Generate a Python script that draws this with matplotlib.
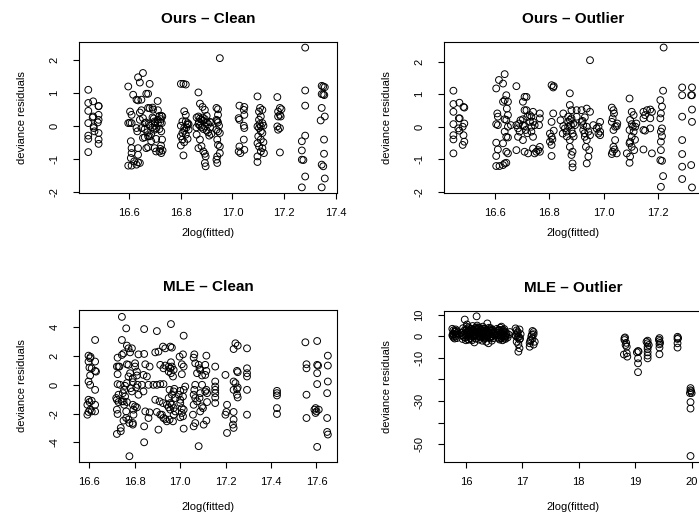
import matplotlib
matplotlib.use("Agg")
import matplotlib.pyplot as plt

plt.rcParams['font.family'] = ['Liberation Sans', 'DejaVu Sans']
plt.rcParams['axes.unicode_minus'] = False

# ---- Ours - Clean ----
ours_clean_x = [16.441, 16.441, 16.441, 16.441, 16.441, 16.441, 16.441, 16.460, 16.460, 16.462, 16.462, 16.465, 16.458,
                16.481, 16.481, 16.481, 16.481, 16.481, 16.481, 16.481, 16.478,
                16.596, 16.653, 16.634, 16.641, 16.679, 16.673, 16.666, 16.615, 16.634, 16.628, 16.647,
                16.603, 16.609, 16.641, 16.647, 16.673, 16.679, 16.692, 16.711, 16.717,
                16.596, 16.602, 16.609, 16.641, 16.653, 16.660, 16.647, 16.628, 16.631, 16.660, 16.679, 16.698, 16.711,
                16.711, 16.717, 16.698, 16.673, 16.653, 16.679, 16.704, 16.685,
                16.606, 16.609, 16.634, 16.666, 16.673, 16.698, 16.704, 16.717, 16.724, 16.609, 16.634, 16.606, 16.619,
                16.634, 16.628, 16.596, 16.609, 16.641,
                16.690, 16.695, 16.700, 16.705, 16.720, 16.725, 16.728, 16.722, 16.726, 16.724, 16.727, 16.723, 16.720,
                16.729, 16.710, 16.690, 16.685, 16.660, 16.670, 16.665, 16.675, 16.690, 16.700,
                16.800, 16.810, 16.819, 16.813, 16.819, 16.806, 16.819, 16.826, 16.813, 16.800, 16.813, 16.806, 16.819,
                16.800, 16.806, 16.813, 16.800, 16.810, 16.826, 16.822, 16.826, 16.830, 16.830,
                16.868, 16.874, 16.884, 16.893, 16.861, 16.868, 16.874, 16.880, 16.887, 16.893, 16.900, 16.906, 16.912,
                16.918, 16.868, 16.874, 16.880, 16.887, 16.893, 16.900, 16.906, 16.913, 16.918, 16.861, 16.874, 16.868,
                16.880, 16.887, 16.893, 16.896, 16.893, 16.896, 16.870, 16.885, 16.900, 16.910, 16.860,
                16.938, 16.944, 16.944, 16.938, 16.944, 16.938, 16.944, 16.951, 16.941, 16.944, 16.951, 16.951, 16.941,
                16.938, 16.941, 16.951, 16.948, 16.941,
                17.027, 17.046, 17.044, 17.024, 17.027, 17.046, 17.044, 17.046, 17.044, 17.027, 17.024, 17.031, 17.046,
                17.097, 17.107, 17.116, 17.103, 17.110, 17.103, 17.116, 17.110, 17.103, 17.110, 17.116, 17.097, 17.100,
                17.110, 17.097, 17.103, 17.116, 17.110, 17.122, 17.097, 17.097, 17.120, 17.120, 17.105,
                17.174, 17.184, 17.190, 17.177, 17.184, 17.177, 17.187, 17.174, 17.184, 17.177, 17.184,
                17.282, 17.282, 17.282, 17.282, 17.269, 17.269, 17.269, 17.275, 17.282, 17.269,
                17.346, 17.352, 17.358, 17.346, 17.352, 17.356, 17.346, 17.342, 17.358, 17.355, 17.355, 17.346, 17.352,
                17.358, 17.346]
ours_clean_y = [1.09, 0.69, 0.45, 0.08, -0.30, -0.40, -0.80, 0.74, 0.28, -0.02, -0.07, -0.17, 0.25,
                0.60, 0.59, 0.33, 0.18, -0.22, -0.42, -0.55, 0.10,
                1.19, 1.60, 1.47, 1.31, 1.27, 0.97, 0.97, 0.94, 0.77, 0.79, 0.79,
                0.43, 0.33, 0.40, 0.47, 0.54, 0.53, 0.49, 0.47, 0.30,
                0.08, 0.09, 0.08, 0.18, 0.23, 0.08, -0.07, -0.07, -0.17, -0.10, 0.00, 0.13, 0.18,
                0.08, -0.10, -0.12, -0.32, -0.37, -0.32, -0.40, -0.47,
                -0.47, -0.68, -0.68, -0.68, -0.65, -0.68, -0.78, -0.78, -0.83, -0.83, -0.88, -0.98, -1.08,
                -1.11, -1.18, -1.21, -1.21, -1.13,
                0.25, 0.22, 0.00, -0.08, 0.10, 0.30, 0.28, 0.20, 0.08, -0.17, -0.42, -0.60, -0.70,
                -0.75, 0.75, 0.55, -0.25, -0.35, -0.20, 0.10, 0.05, -0.05, 0.10,
                1.27, 1.27, 1.25, 0.44, 0.33, 0.13, 0.13, 0.03, -0.07, 0.00, -0.15, -0.22, -0.27,
                -0.32, -0.42, -0.50, -0.60, -0.90, 0.08, -0.05, -0.40, 0.05, -0.12,
                1.01, 0.67, 0.57, 0.48, 0.25, 0.28, 0.22, 0.18, 0.15, 0.20, 0.10, 0.05, 0.12,
                0.10, 0.05, 0.00, -0.05, -0.10, -0.02, -0.15, -0.20, -0.05, -0.25, -0.27, -0.42, -0.68,
                -0.62, -0.78, -0.85, -0.93, -1.13, -1.23, 0.12, 0.25, 0.30, -0.30, -0.05,
                0.54, 0.50, 0.33, 0.18, 0.10, -0.12, -0.17, -0.22, -0.42, -0.58, -0.63, -0.83, -0.93,
                -1.03, -1.13, 2.05, 0.00, 0.15,
                0.61, 0.57, 0.48, 0.23, 0.18, 0.33, 0.00, -0.07, -0.42, -0.63, -0.78, -0.83, -0.73,
                0.89, 0.54, 0.48, 0.43, 0.28, 0.18, 0.08, -0.02, -0.07, -0.17, -0.22, -0.02, -0.32,
                -0.42, -0.53, -0.63, -0.68, -0.78, -0.83, -0.93, -1.10, 0.00, -0.50, 0.05,
                0.87, 0.54, 0.50, 0.43, 0.33, 0.28, 0.28, -0.02, -0.07, -0.12, -0.81,
                2.37, 1.07, 0.61, -0.30, -0.47, -0.75, -1.03, -1.04, -1.54, -1.87,
                1.21, 1.19, 1.17, 0.96, 0.95, 0.93, 0.54, 0.16, 0.28, -0.42, -0.85, -1.18, -1.23,
                -1.60, -1.87]

# ---- Ours - Outlier ----
ours_out_x = [16.449, 16.449, 16.471, 16.449, 16.449, 16.449, 16.449, 16.449, 16.469, 16.472, 16.467, 16.471,
              16.489, 16.486, 16.489, 16.483, 16.486, 16.489, 16.483,
              16.606, 16.616, 16.637, 16.631, 16.610, 16.612, 16.606, 16.612, 16.606, 16.612, 16.606, 16.606,
              16.618, 16.631, 16.637, 16.643, 16.631, 16.637, 16.649, 16.643, 16.645, 16.649, 16.637, 16.643,
              16.649, 16.637, 16.643, 16.649, 16.631, 16.643, 16.649, 16.680, 16.680, 16.686, 16.692, 16.686,
              16.680, 16.704, 16.710, 16.717, 16.710, 16.717, 16.704, 16.704, 16.710, 16.714, 16.704, 16.710,
              16.723, 16.729, 16.735, 16.741, 16.741, 16.747, 16.735, 16.735, 16.741, 16.741, 16.747, 16.753,
              16.760, 16.766, 16.766, 16.763, 16.766, 16.766, 16.690, 16.695, 16.720, 16.720, 16.730, 16.660,
              16.809, 16.817, 16.815, 16.815, 16.809, 16.803, 16.809, 16.812, 16.803, 16.809, 16.809, 16.817,
              16.852, 16.842, 16.852, 16.858, 16.864, 16.850, 16.876, 16.876, 16.882, 16.870, 16.876, 16.882,
              16.889, 16.870, 16.882, 16.886, 16.876, 16.876, 16.886, 16.882, 16.886, 16.886, 16.901, 16.901,
              16.895, 16.870, 16.880, 16.865, 16.890,
              16.919, 16.938, 16.950, 16.931, 16.923, 16.925, 16.938, 16.925, 16.944, 16.950, 16.931, 16.938,
              16.935, 16.947, 16.944, 16.938, 16.950, 16.962, 16.974, 16.981, 16.987, 16.987, 16.981, 16.987,
              16.920, 16.930,
              17.030, 17.036, 17.038, 17.033, 17.030, 17.042, 17.036, 17.048, 17.042, 17.036, 17.033, 17.048,
              17.030, 17.050, 17.040,
              17.095, 17.103, 17.110, 17.097, 17.103, 17.107, 17.116, 17.095, 17.110, 17.103, 17.097, 17.095,
              17.103, 17.112, 17.097, 17.095, 17.085, 17.120, 17.115,
              17.146, 17.152, 17.159, 17.171, 17.177, 17.146, 17.171, 17.146, 17.152, 17.171, 17.146, 17.177,
              17.220, 17.218, 17.208, 17.214, 17.210, 17.208, 17.214, 17.210, 17.214, 17.210, 17.210, 17.208,
              17.214, 17.218, 17.210,
              17.288, 17.288, 17.324, 17.324, 17.321, 17.324, 17.288, 17.324, 17.288, 17.288, 17.288, 17.321,
              17.288, 17.324]
ours_out_y = [1.11, 0.70, 0.74, 0.46, 0.08, -0.26, -0.39, -0.82, 0.26, 0.26, -0.05, -0.12,
              0.59, 0.61, 0.10, 0.00, -0.26, -0.46, -0.56,
              1.18, 1.44, 1.62, 1.33, 0.41, 0.31, 0.08, 0.05, -0.49, -0.70, -0.90, -1.21,
              -1.21, -1.18, -1.13, -1.11, 0.77, 0.82, 0.77, 0.97, 0.56, 0.36, 0.23, 0.21,
              0.00, -0.15, -0.31, -0.33, -0.51, -0.77, -0.82, 1.25, 0.05, -0.05, -0.15, -0.31,
              -0.72, 0.77, 0.92, 0.92, 0.51, 0.51, 0.23, 0.05, 0.02, -0.10, -0.41, -0.77,
              -0.82, 0.36, 0.31, 0.46, 0.15, 0.05, 0.00, -0.15, -0.31, -0.67, -0.82, -0.77,
              -0.72, 0.41, 0.26, 0.05, -0.62, -0.77, 0.10, 0.20, 0.30, -0.20, 0.15, 0.05,
              1.28, 1.25, 1.21, 0.41, 0.15, -0.21, -0.31, -0.39, -0.46, -0.56, -0.90, -0.12,
              0.41, 0.20, 0.02, -0.05, -0.15, -0.21, 1.03, 0.67, 0.51, 0.31, 0.21, 0.26,
              0.10, 0.00, -0.10, -0.21, -0.41, -0.62, -0.77, -0.87, -1.13, -1.25, 0.51, 0.31,
              0.05, 0.15, 0.05, -0.30, -0.30,
              0.51, 0.56, 0.46, 0.29, 0.18, 0.05, 0.00, -0.10, -0.15, -0.26, -0.31, -0.41,
              -0.62, -0.72, -0.92, -1.13, 2.05, 0.05, -0.05, 0.00, 0.15, -0.15, -0.21, -0.26,
              0.15, -0.20,
              0.59, 0.51, 0.41, 0.26, 0.15, 0.00, -0.10, 0.02, -0.41, -0.62, -0.77, -0.82,
              -0.84, 0.10, -0.70,
              0.87, 0.46, 0.36, 0.21, 0.08, 0.00, 0.00, -0.10, -0.15, -0.31, -0.46, -0.51,
              -0.62, -0.72, -0.92, -1.11, -0.82, 0.10, -0.40,
              0.46, 0.36, 0.51, 0.53, 0.46, 0.26, 0.26, -0.10, -0.12, -0.05, -0.70, -0.82,
              2.44, 1.11, 0.82, 0.62, 0.41, 0.26, -0.05, -0.15, -0.29, -0.46, -0.72, -1.03,
              -1.05, -1.52, -1.85,
              1.21, 0.97, 1.21, 0.97, 0.97, 0.53, 0.31, 0.15, -0.41, -0.84, -1.23, -1.18,
              -1.61, -1.87]

# ---- MLE - Clean ----
mle_clean_x = [16.596, 16.603, 16.625, 16.596, 16.625, 16.600, 16.610, 16.625, 16.629, 16.603, 16.596, 16.603,
               16.625, 16.596, 16.610, 16.591, 16.625, 16.603, 16.596, 16.610, 16.625, 16.591, 16.600, 16.605,
               16.721, 16.738, 16.738, 16.724, 16.721, 16.728, 16.721, 16.718, 16.728, 16.724, 16.735, 16.724,
               16.721, 16.728, 16.732, 16.724, 16.743, 16.750, 16.743, 16.743, 16.762,
               16.753, 16.747, 16.757, 16.743, 16.750, 16.765, 16.753, 16.762, 16.772, 16.762, 16.776, 16.750,
               16.765, 16.772, 16.779, 16.772, 16.765, 16.779, 16.772, 16.765, 16.757,
               16.787, 16.791, 16.791, 16.782, 16.787, 16.791, 16.794, 16.794, 16.791, 16.791, 16.776,
               16.801, 16.801, 16.809, 16.809, 16.812, 16.806, 16.816, 16.801, 16.809, 16.816,
               16.841, 16.846, 16.838, 16.853, 16.831, 16.838, 16.846, 16.865, 16.860, 16.841, 16.841, 16.841,
               16.865, 16.860,
               16.897, 16.890, 16.904, 16.924, 16.934, 16.912, 16.926, 16.934, 16.897, 16.912, 16.926, 16.882,
               16.890, 16.909, 16.924, 16.897, 16.912, 16.926, 16.904, 16.919, 16.941, 16.934,
               16.959, 16.949, 16.956, 16.963, 16.971, 16.949, 16.959, 16.968, 16.956, 16.963, 16.953, 16.963,
               16.949, 16.956, 16.941, 16.963, 16.949, 16.971, 16.956, 16.978, 16.971, 16.968, 16.953, 16.978,
               16.971, 16.974, 16.959,
               17.015, 17.012, 16.997, 17.007, 17.015, 17.007, 17.000, 16.993, 17.000, 17.015, 17.012, 17.000,
               17.007, 17.015, 17.007, 17.012, 17.000, 17.015, 17.022,
               17.062, 17.059, 17.066, 17.074, 17.066, 17.062, 17.059, 17.066, 17.074, 17.059, 17.056, 17.066,
               17.059, 17.081, 17.081, 17.085, 17.088, 17.096, 17.096, 17.088, 17.085, 17.096, 17.088, 17.100,
               17.115, 17.110, 17.115, 17.110, 17.115, 17.110, 17.118, 17.115, 17.118, 17.103,
               17.154, 17.154, 17.154, 17.154, 17.154, 17.154, 17.154,
               17.199, 17.206, 17.203, 17.199, 17.206, 17.235, 17.235, 17.243, 17.235, 17.235, 17.235, 17.232,
               17.235, 17.243, 17.253, 17.250, 17.253, 17.253, 17.250, 17.250, 17.253,
               17.294, 17.294, 17.294, 17.294, 17.294, 17.294,
               17.426, 17.426, 17.426, 17.426, 17.426,
               17.551, 17.556, 17.556, 17.556, 17.556, 17.603, 17.603, 17.607, 17.603, 17.603, 17.596, 17.591,
               17.600, 17.596, 17.610, 17.603,
               17.650, 17.650, 17.650, 17.647, 17.647, 17.647, 17.650]
mle_clean_y = [2.03, 1.85, 3.12, 1.62, 1.62, 1.20, 1.15, 0.97, 0.92, 0.65, 0.23, 0.00,
               -0.35, -1.04, -1.11, -1.39, -1.39, -1.73, -1.89, -1.85, -1.85, -2.08, -1.20, 1.95,
               -3.42, -3.23, -3.00, -2.03, -1.73, -1.20, -1.04, -0.92, -0.69, 0.05, 0.00, 0.74,
               1.27, 1.27, 1.27, 1.89, 2.08, 2.19, 3.12, 4.73, 3.93,
               -0.35, -0.58, -0.81, -1.15, -1.15, -1.20, -1.39, -1.85, -2.42, -2.31, -2.66, -2.49,
               2.73, 2.54, 2.26, 1.39, 1.43, 0.81, 0.58, 0.12, -0.07,
               2.54, 0.46, 0.18, -0.23, -0.46, -1.39, -1.73, -2.08, -2.77, -2.66, -4.97,
               1.50, 1.27, 0.92, 0.65, 0.00, -0.18, -0.69, -1.50, -1.57, 2.12,
               2.15, 1.43, 0.69, 0.58, 0.00, -0.46, -1.85, -1.92, -2.31, -2.89, -4.00, 3.88,
               1.27, 0.00,
               3.74, 2.26, 2.31, 2.66, 2.54, 1.39, 1.15, 1.34, 0.00, 0.05, 0.05, 0.00,
               -1.04, -1.15, -1.27, -1.89, -2.08, -2.31, -3.12, -2.08, -2.54, -2.38,
               1.57, 1.27, 1.15, 1.27, 1.04, 0.92, 0.81, 0.58, 2.66, 2.59, -0.35, -0.69,
               -0.92, -1.27, -1.39, -1.39, -1.57, -1.62, -1.73, -1.85, -2.08, -2.54, -2.42, -0.92,
               -0.46, -0.28, 4.23,
               3.42, 2.12, 1.96, 1.43, 1.27, 0.74, -0.42, -0.69, -1.04, -0.35, -0.81, -1.27,
               -1.62, -1.73, -1.96, -2.19, -2.26, -3.05, -0.12,
               2.12, 1.89, 1.50, 0.81, 0.00, -0.35, -0.69, -0.92, -1.15, -1.39, -2.08, -2.66,
               -2.89, -4.27, 1.39, 1.15, 1.04, 0.65, 0.00, -0.58, -0.92, -1.50, -1.85, -1.62,
               2.03, 1.39, 0.97, 0.69, -0.35, -0.46, -0.58, -2.49, -1.20, -2.77,
               1.27, 0.23, -0.12, -0.35, -0.58, -0.88, -1.27,
               0.69, -1.39, -1.89, -2.08, -3.35, 2.49, 0.23, 0.12, -0.35, -1.89, -2.42, -2.77,
               -3.00, 2.89, 2.73, 0.97, 0.88, -0.18, -0.30, -0.69, -0.88,
               2.54, 1.15, 0.81, 0.58, -0.35, -2.08,
               -0.42, -0.58, -0.74, -1.62, -2.03,
               2.96, 1.43, 1.15, -0.69, -2.31, 3.05, 1.39, 1.34, 0.81, 0.05, -1.62, -1.73,
               -1.85, -1.96, -1.73, -4.32,
               2.03, 1.34, 0.23, -0.58, -2.31, -3.28, -3.46]

# ---- MLE - Outlier ----
mle_out_x = [15.76, 15.78, 15.80, 15.82, 15.84, 15.76, 15.78, 15.80, 15.82, 15.84, 15.77, 15.83,
             15.98, 16.02, 15.96, 15.97, 15.99, 16.00, 16.02, 16.03, 16.04, 16.05, 16.06, 16.07,
             16.08, 16.09, 16.10, 16.11, 16.12, 16.13, 16.14, 16.15, 16.16, 16.17, 16.18, 16.19,
             16.20, 16.21, 16.22, 16.23, 16.24, 16.25, 16.26, 16.27, 16.28, 16.29, 16.30, 16.31,
             16.32, 16.33, 16.34, 16.35, 16.36, 16.37, 16.38, 16.39, 16.40, 16.41, 16.42, 16.43,
             16.44, 16.45, 16.46, 16.47, 16.48, 16.49,
             15.93, 15.95, 16.01, 16.04, 16.08, 16.12, 16.15, 16.19, 16.22, 16.26, 16.30, 16.33,
             16.37, 16.40, 16.44, 16.47, 15.94, 16.00, 16.06, 16.11, 16.17, 16.24, 16.29, 16.35,
             16.42, 16.48, 16.03, 16.13, 16.21, 16.31, 16.39, 16.46,
             15.92, 15.96, 16.00, 16.05, 16.09, 16.14, 16.18, 16.23, 16.27, 16.32, 16.36, 16.41,
             16.45, 16.49, 15.95, 16.02, 16.07, 16.16, 16.20, 16.28, 16.34, 16.38, 16.43, 16.50,
             15.79, 15.81, 15.77, 15.83, 16.10, 16.25, 16.36, 16.05,
             16.55, 16.56, 16.57, 16.58, 16.59, 16.60, 16.61, 16.62, 16.63, 16.64, 16.65, 16.66,
             16.67, 16.68, 16.69, 16.70, 16.72, 16.74, 16.76, 16.78, 16.58, 16.62, 16.66, 16.70,
             16.56, 16.60, 16.64, 16.68, 16.72, 16.57, 16.61, 16.65, 16.69, 16.63, 16.67, 16.59,
             16.88, 16.90, 16.92, 16.95, 16.88, 16.92, 16.95, 16.90, 16.93, 16.95, 16.93, 16.97, 16.96,
             16.91, 16.94, 16.89,
             17.18, 17.20, 17.15, 17.13, 17.13, 17.22, 17.18, 17.20, 17.16, 17.20, 17.14, 17.17,
             18.81, 18.81, 18.83, 18.85, 18.85, 18.86, 18.80, 18.82, 18.84,
             19.05, 19.03, 19.05, 19.05, 19.05, 19.06,
             19.22, 19.22, 19.22, 19.22, 19.22, 19.22, 19.22, 19.20, 19.24,
             19.43, 19.43, 19.43, 19.43, 19.43, 19.42, 19.44,
             19.75, 19.75, 19.75, 19.75, 19.76,
             19.98, 19.98, 19.97, 20.00, 19.98, 19.98, 19.98, 19.99]
mle_out_y = [3.5, 2.8, 2.0, 3.2, 1.5, 0.5, -0.5, -1.0, 0.0, -0.8, 1.2, 2.5,
             7.8, 5.5, 2.5, 1.0, -0.5, 3.0, 1.8, 0.2, -1.5, 4.2, 2.2, 0.8,
             -0.8, 3.5, 1.5, -1.8, 4.8, 2.8, 0.0, -2.8, 3.8, 1.2, -1.0, 9.3,
             5.0, 2.5, 0.5, -1.5, 4.0, 1.8, -0.5, 3.2, 0.8, -2.0, 4.5, 2.0,
             0.0, -1.2, 3.5, 1.0, -2.5, 2.8, 6.0, 0.5, -3.2, 4.0, 1.5, -1.0,
             2.5, 0.0, -2.0, 3.0, 1.0, -0.8,
             0.5, 3.8, 4.5, 2.6, 1.2, 0.4, 2.0, 3.2, 1.4, 2.9, 1.0, 3.6,
             0.2, 2.2, 3.8, 0.2, -1.2, -1.8, 0.0, 3.0, 0.6, -0.2, 3.6, 1.0,
             -0.6, 2.0, 2.0, 1.6, 4.2, -0.4, 1.8, 2.6,
             1.6, -0.2, 0.8, 2.8, -1.2, 1.8, 4.0, 2.2, 0.4, 2.6, 0.2, 3.2,
             1.8, 2.0, 0.4, 3.4, 1.2, 0.6, 3.4, 1.4, -0.8, 1.8, -0.2, 0.6,
             1.0, 2.4, 0.2, 0.8, 2.4, 0.0, 1.6, -1.4,
             3.5, 1.5, -0.5, 2.5, 0.5, -1.5, 4.0, 2.0, 4.5, 0.0, -1.8, 3.0,
             1.0, -1.0, 2.2, 0.3, 1.5, -0.5, 0.8, 2.0, 3.0, -0.6, 1.8, -1.2,
             0.6, 3.0, 1.2, 3.4, 0.4, 2.8, 1.0, 2.4, -0.2, -0.8, 0.2, -1.0,
             3.7, 2.8, 2.0, 3.2, 0.5, -0.5, -1.5, -2.5, -3.7, -5.5, -7.1, 1.0, -1.0,
             1.5, -0.2, 0.0,
             2.5, 1.0, -1.5, -3.2, -4.8, -2.5, -1.0, -3.8, 0.0, 2.0, -2.2, 0.8,
             -0.9, -1.7, -4.0, -4.8, -7.8, -9.4, -8.4, -0.5, -3.0,
             -6.8, -7.4, -10.2, -12.5, -16.6, -7.0,
             -2.0, -3.2, -4.8, -5.8, -7.4, -8.9, -10.2, -2.5, -4.0,
             -0.8, -2.2, -3.7, -5.2, -8.3, -1.5, -3.0,
             -0.2, -1.2, -3.2, -5.2, -0.8,
             -24.0, -25.0, -26.3, -26.3, -30.5, -33.5, -55.5, -25.5]


# function for one R-style residual panel
def resid_panel(rect, x, y, title, xlim, ylim, xticks, yticks, ylabels=None, xlabpad=7):
    ax = fig.add_axes(rect)
    ax.scatter(x, y, s=24, facecolors='none', edgecolors='black', linewidths=0.7)
    ax.set_xlim(xlim)
    ax.set_ylim(ylim)
    ax.set_xticks(xticks)
    if max(xticks) > 18:
        ax.set_xticklabels(['%d' % t for t in xticks])
    else:
        ax.set_xticklabels(['%.1f' % t for t in xticks])
    ax.set_yticks(yticks)
    ax.set_yticklabels(ylabels if ylabels else ['%d' % t for t in yticks], rotation=90, va='center')
    ax.tick_params(direction='out', length=4, width=0.8, labelsize=8)
    ax.tick_params(axis='x', pad=7)
    ax.tick_params(axis='y', pad=10)
    for s in ax.spines.values():
        s.set_linewidth(0.8)
    ax.set_title(title, fontsize=11, fontweight='bold', pad=14)
    ax.set_xlabel('2log(fitted)', fontsize=8, labelpad=xlabpad)
    ax.set_ylabel('deviance residuals', fontsize=8, labelpad=16)
    return ax


fig = plt.figure(figsize=(6.99, 5.16), dpi=100)

resid_panel([0.113, 0.626, 0.369, 0.2926], ours_clean_x, ours_clean_y, 'Ours \u2013 Clean',
            (16.405, 17.405), (-2.04, 2.54), [16.6, 16.8, 17.0, 17.2, 17.4], [-2, -1, 0, 1, 2])
resid_panel([0.635, 0.626, 0.369, 0.2926], ours_out_x, ours_out_y, 'Ours \u2013 Outlier',
            (16.414, 17.36), (-2.04, 2.61), [16.6, 16.8, 17.0, 17.2], [-2, -1, 0, 1, 2])
resid_panel([0.113, 0.105, 0.369, 0.294], mle_clean_x, mle_clean_y, 'MLE \u2013 Clean',
            (16.554, 17.69), (-5.36, 5.2), [16.6, 16.8, 17.0, 17.2, 17.4, 17.6], [-4, -2, 0, 2, 4],
            xlabpad=11)
resid_panel([0.635, 0.105, 0.369, 0.292], mle_out_x, mle_out_y, 'MLE \u2013 Outlier',
            (15.61, 20.18), (-58.2, 11.7), [16, 17, 18, 19, 20], [-50, -40, -30, -20, -10, 0, 10],
            ['-50', '', '-30', '', '-10', '0', '10'], xlabpad=11)

fig.savefig('out.png', dpi=100)
